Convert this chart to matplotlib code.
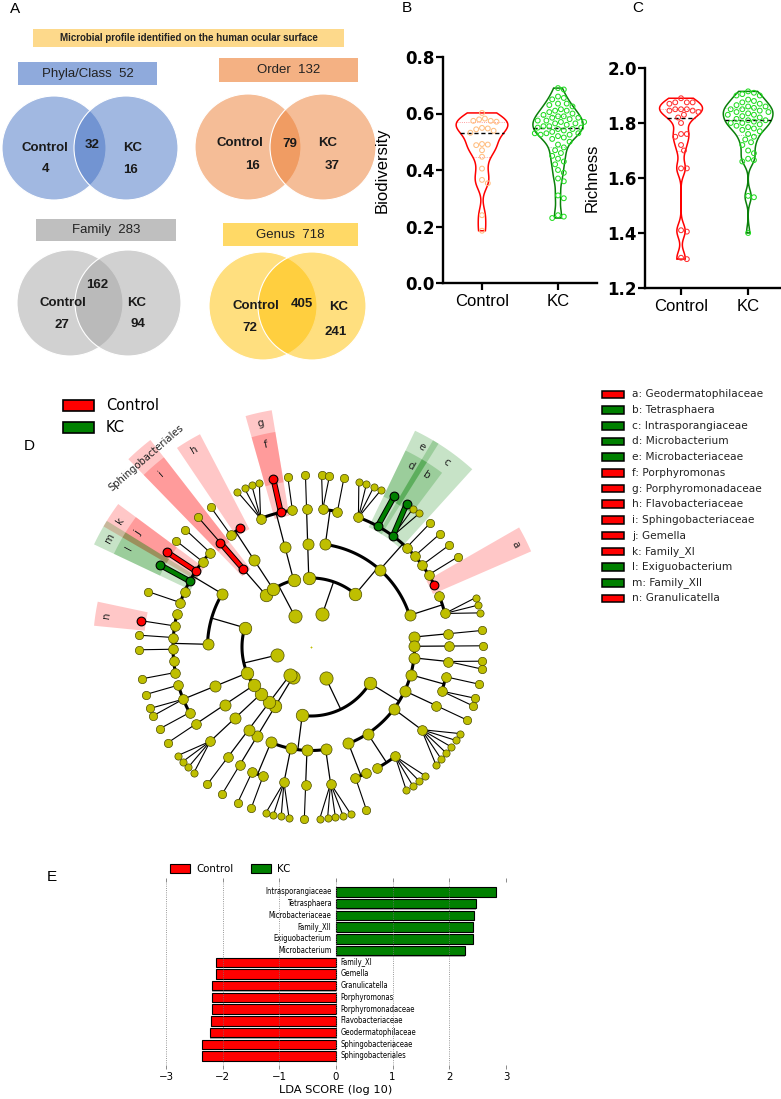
import numpy as np
import matplotlib.pyplot as plt
from matplotlib.patches import Circle, Rectangle, Polygon

# ---------------- data ----------------
# A: shared / unique taxa
venn_levels = ['Phyla/Class', 'Order', 'Family', 'Genus']
venn_control_only = [4, 16, 27, 72]
venn_shared = [32, 79, 162, 405]
venn_kc_only = [16, 37, 94, 241]

# B / C: alpha diversity per subject
groups = ['Control', 'KC']
biodiv_control = [0.602, 0.582, 0.574, 0.574, 0.571, 0.579, 0.547, 0.549, 0.544, 0.539, 0.532,
                  0.490, 0.492, 0.488, 0.470, 0.447, 0.405, 0.365, 0.353, 0.240, 0.185]
biodiv_kc = [0.690, 0.685, 0.660, 0.655, 0.650, 0.635, 0.635, 0.630, 0.625, 0.615, 0.610, 0.610,
             0.605, 0.600, 0.595, 0.590, 0.590, 0.585, 0.585, 0.580, 0.575, 0.575, 0.570, 0.570,
             0.565, 0.565, 0.560, 0.555, 0.555, 0.550, 0.550, 0.545, 0.545, 0.540, 0.535, 0.530,
             0.530, 0.530, 0.525, 0.525, 0.520, 0.515, 0.510, 0.500, 0.490, 0.480, 0.470, 0.460,
             0.450, 0.440, 0.430, 0.420, 0.400, 0.390, 0.370, 0.360, 0.310, 0.300, 0.240, 0.235, 0.230]
rich_control = [1.890, 1.875, 1.875, 1.875, 1.870, 1.850, 1.850, 1.850, 1.845, 1.845, 1.840, 1.830,
                1.820, 1.800, 1.760, 1.760, 1.750, 1.720, 1.700, 1.635, 1.635, 1.410, 1.405, 1.310, 1.305]
rich_kc = [1.915, 1.910, 1.905, 1.900, 1.900, 1.885, 1.880, 1.875, 1.870, 1.865, 1.860, 1.860,
           1.855, 1.850, 1.850, 1.845, 1.840, 1.840, 1.835, 1.830, 1.830, 1.825, 1.820, 1.815,
           1.810, 1.810, 1.805, 1.800, 1.800, 1.795, 1.790, 1.785, 1.780, 1.775, 1.770, 1.760,
           1.750, 1.740, 1.730, 1.720, 1.700, 1.690, 1.670, 1.665, 1.660, 1.535, 1.530, 1.400]

# D: cladogram  phylum -> class -> order -> family (number of genera shown)
clado_tree = [
    [[[1]], [[1, 0]], [[4, 1, 1]]],                                    # Bacteroidetes
    [[[1]], [[2, 1], [4, 1, 3, 1, 1, 1, 1, 0], [0, 3]]],               # Actinobacteria
    [[[1], [1], [2], [1, 2], [1], [6], [4, 0], [0, 1]],
     [[5], [1], [4], [1, 1]]],                                         # Proteobacteria
    [[[1]]],
    [[[1]]],
    [[[4]], [[1]], [[1, 2, 1]],
     [[1, 0, 1, 1, 1, 0], [1, 0, 1, 1, 1, 1]]],                        # Firmicutes
]
clade_letters = list('abcdefghijklmn')
clade_names = ['Geodermatophilaceae', 'Tetrasphaera', 'Intrasporangiaceae', 'Microbacterium',
               'Microbacteriaceae', 'Porphyromonas', 'Porphyromonadaceae', 'Flavobacteriaceae',
               'Sphingobacteriaceae', 'Gemella', 'Family_XI', 'Exiguobacterium', 'Family_XII',
               'Granulicatella']
clade_groups = ['Control', 'KC', 'KC', 'KC', 'KC', 'Control', 'Control', 'Control',
                'Control', 'Control', 'Control', 'KC', 'KC', 'Control']
clade_paths = [(1, 1, 1, 7), (1, 1, 1, 2, 0), (1, 1, 1, 2), (1, 1, 1, 1, 0), (1, 1, 1, 1),
               (0, 2, 0, 1, 0), (0, 2, 0, 1), (0, 1, 0, 1), (0, 0, 0, 0), (5, 3, 1, 3, 0),
               (5, 3, 1, 3), (5, 3, 1, 2, 0), (5, 3, 1, 2), (5, 3, 0, 4, 0)]
named_clade = ('Sphingobacteriales', (0, 0, 0), 'Control')

# E: LEfSe LDA scores
lda_names = ['Intrasporangiaceae', 'Tetrasphaera', 'Microbacteriaceae', 'Family_XII',
             'Exiguobacterium', 'Microbacterium', 'Family_XI', 'Gemella', 'Granulicatella',
             'Porphyromonas', 'Porphyromonadaceae', 'Flavobacteriaceae', 'Geodermatophilaceae',
             'Sphingobacteriaceae', 'Sphingobacteriales']
lda_scores = [2.82, 2.47, 2.43, 2.42, 2.42, 2.28, -2.12, -2.12, -2.19, -2.19, -2.19,
              -2.21, -2.22, -2.36, -2.37]

# ---------------- figure ----------------
W, H = 781, 1099
fig = plt.figure(figsize=(W / 100, H / 100), dpi=100)
ax = fig.add_axes([0, 0, 1, 1])
ax.set_xlim(0, W)
ax.set_ylim(H, 0)
ax.axis('off')

ARIAL = 'Liberation Sans'
RED, GREEN = '#FF0000', '#008000'
grp_color = {'Control': RED, 'KC': GREEN}

for lab, (x, y) in zip('ABCDE', [(15, 9), (407, 8), (638, 8), (29, 446), (52, 877)]):
    ax.text(x, y, lab, fontsize=11, family=ARIAL, ha='center', va='center')

# ---------- A: Venn diagrams ----------
ax.add_patch(Rectangle((33, 29), 311, 18, color='#FDD98B', lw=0))
ax.text(188.5, 38, 'Microbial profile identified on the human ocular surface', family=ARIAL,
        fontsize=7, fontweight='bold', ha='center', va='center', color='#222222')

venn_circle_col = ['#4472C4', '#ED7D31', '#A5A5A5', '#FFC000']
venn_box_col = ['#8FAADC', '#F4B183', '#BFBFBF', '#FFD966']
venn_layout = [
    dict(c1=(54, 148), c2=(126, 148), r=52, box=(18, 62, 157, 85),
         txt=[(45, 148), (45, 169), (92, 145), (133, 148), (131, 170)]),
    dict(c1=(248, 147), c2=(323, 147), r=53, box=(219, 58, 358, 82),
         txt=[(240, 143), (252, 166), (290, 144), (328, 143), (332, 166)]),
    dict(c1=(70, 303), c2=(128, 303), r=53, box=(36, 219, 176, 241),
         txt=[(63, 303), (62, 325), (97, 285), (137, 303), (138, 324)]),
    dict(c1=(263, 306), c2=(312, 306), r=54, box=(223, 223, 358, 246),
         txt=[(256, 306), (250, 328), (302, 304), (339, 307), (336, 332)]),
]
for i, lay in enumerate(venn_layout):
    x0, y0, x1, y1 = lay['box']
    ax.add_patch(Rectangle((x0, y0), x1 - x0, y1 - y0, color=venn_box_col[i], lw=0))
    ax.text((x0 + x1) / 2, (y0 + y1) / 2, f'{venn_levels[i]}  '
            f'{venn_control_only[i] + venn_shared[i] + venn_kc_only[i]}',
            family=ARIAL, fontsize=9.5, ha='center', va='center', color='#222222')
    for c in (lay['c1'], lay['c2']):
        ax.add_patch(Circle(c, lay['r'], facecolor=venn_circle_col[i], alpha=0.5, lw=0))
        ax.add_patch(Circle(c, lay['r'], facecolor='none', edgecolor='white', lw=0.8))
    vals = ['Control', venn_control_only[i], venn_shared[i], 'KC', venn_kc_only[i]]
    for (tx, ty), v in zip(lay['txt'], vals):
        ax.text(tx, ty, str(v), family=ARIAL, fontsize=9.5, fontweight='bold',
                ha='center', va='center', color='#1a1a1a')


# ---------- B / C: violins ----------
def swarm(vals, sx, sy, d):
    vals = np.asarray(vals)
    offs = np.zeros(len(vals))
    placed = []
    for i in np.argsort(-vals):
        y = vals[i] * sy
        cand = 0.0
        for k in range(60):
            cands = [0.0] if k == 0 else [k * d * 0.5, -k * d * 0.5]
            ok = False
            for c in cands:
                if all((c - px) ** 2 + (y - py) ** 2 >= d * d for px, py in placed):
                    cand, ok = c, True
                    break
            if ok:
                break
        placed.append((cand, y))
        offs[i] = cand / sx
    return offs


def violin(a, pos, vals, bw, hw_max, line_col, pt_col, sx, sy):
    vals = np.asarray(vals)
    grid = np.linspace(vals.min(), vals.max(), 300)
    dens = np.exp(-0.5 * ((grid[None, :] - vals[:, None]) / bw) ** 2).sum(0)
    hw = dens / dens.max() * hw_max
    a.fill(np.concatenate([pos + hw, (pos - hw)[::-1]]), np.concatenate([grid, grid[::-1]]),
           facecolor='none', edgecolor=line_col, lw=1.1, zorder=2)
    q1, med, q3 = np.percentile(vals, [25, 50, 75])
    for q in (q1, q3):
        w = np.interp(q, grid, hw)
        a.plot([pos - w, pos + w], [q, q], ls=':', color=line_col, lw=0.6, alpha=0.5, zorder=3)
    w = np.interp(med, grid, hw)
    a.plot([pos - w, pos + w], [med, med], ls=(0, (3, 2)), color='black', lw=1.0, zorder=3)
    offs = swarm(vals, sx, sy, 5.8)
    a.scatter(pos + offs, vals, s=12, facecolors='none', edgecolors=pt_col, linewidths=0.75,
              zorder=4)


def style_gp(a, ylim, yticks, ylabel, xlim, label_x):
    a.set_xlim(*xlim)
    a.set_ylim(*ylim)
    for s in ['top', 'right']:
        a.spines[s].set_visible(False)
    for s in ['left', 'bottom']:
        a.spines[s].set_linewidth(1.7)
    a.set_yticks(yticks)
    a.set_yticklabels([f'{t:.1f}' for t in yticks], fontweight='bold', fontsize=12,
                      family='DejaVu Sans')
    a.set_xticks([1, 2])
    a.set_xticklabels(groups, fontsize=12, family=ARIAL)
    a.tick_params(axis='both', direction='out', length=5, width=1.6)
    a.tick_params(axis='y', pad=1)
    a.tick_params(axis='x', pad=3)
    a.set_ylabel(ylabel, fontsize=12, family=ARIAL)
    a.yaxis.set_label_coords(label_x, 0.5)
    a.patch.set_alpha(0)


ax_b = fig.add_axes([443 / W, 1 - 283 / H, 154 / W, 226 / H])
style_gp(ax_b, (0, 0.8), [0.0, 0.2, 0.4, 0.6, 0.8], 'Biodiversity', (0.487, 2.513), -0.345)
violin(ax_b, 1, biodiv_control, 0.03, 0.34, RED, '#FFBE80', 76, 282.5)
violin(ax_b, 2, biodiv_kc, 0.028, 0.33, '#0A800A', '#22DD22', 76, 282.5)

ax_c = fig.add_axes([645 / W, 1 - 288 / H, 136 / W, 220 / H])
style_gp(ax_c, (1.2, 2.0), [1.2, 1.4, 1.6, 1.8, 2.0], 'Richness', (0.463, 2.49), -0.33)
violin(ax_c, 1, rich_control, 0.026, 0.32, RED, '#FF3030', 67, 275)
violin(ax_c, 2, rich_kc, 0.024, 0.37, '#0A800A', '#22DD22', 67, 275)

# ---------- D: cladogram ----------
CX, CY = 311, 647
ring = [0, 34.5, 69, 103.5, 138, 172]
node_size = [2, 9.5, 9, 8, 7, 6]


def pol(r, deg):
    t = np.radians(deg)
    return CX + r * np.cos(t), CY - r * np.sin(t)


children = {}


def build(sub, path):
    if isinstance(sub, int):
        kids = [path + (g,) for g in range(sub)]
        for k in kids:
            children[k] = []
    else:
        kids = [path + (i,) for i in range(len(sub))]
        for k, s in zip(kids, sub):
            build(s, k)
    children[path] = kids


build(clado_tree, ())


def terminals(p):
    if not children[p]:
        return [p]
    out = []
    for k in children[p]:
        out += terminals(k)
    return out


def common(a, b):
    d = 0
    while d < min(len(a), len(b)) and a[d] == b[d]:
        d += 1
    return d


gap_w = {4: 1.0, 3: 1.85, 2: 1.95, 1: 2.05, 0: 2.25}
terms = terminals(())
steps = [gap_w[common(terms[i - 1], terms[i])] for i in range(1, len(terms))]
total = sum(steps) + gap_w[common(terms[-1], terms[0])]
cum = np.concatenate([[0], np.cumsum(steps)])
start = 131.0
theta = {t: start - c * 360 / total for t, c in zip(terms, cum)}


def set_theta(p):
    if p in theta:
        return theta[p]
    ts = [set_theta(k) for k in children[p]]
    theta[p] = (min(ts) + max(ts)) / 2
    return theta[p]


set_theta(())

hl = {p: grp_color[g] for p, g in zip(clade_paths, clade_groups)}
hl[named_clade[1]] = grp_color[named_clade[2]]


# highlight wedges
def wedge(r0, r1, a0, a1, col):
    t = np.linspace(a0, a1, 30)
    xo, yo = pol(r1, t)
    xi, yi = pol(r0, t[::-1])
    ax.add_patch(Polygon(np.column_stack([np.r_[xo, xi], np.r_[yo, yi]]), closed=True,
                         facecolor=col, alpha=0.22, lw=0, zorder=1))


wedge_out = {3: 262, 4: 240, 5: 218}
delta = 3.2
clade_items = [(p, l, grp_color[g]) for p, l, g in zip(clade_paths, clade_letters, clade_groups)]
clade_items.append((named_clade[1], named_clade[0], grp_color[named_clade[2]]))
for p, lab, col in clade_items:
    L = len(p)
    ts = [theta[t] for t in terminals(p)]
    r1 = wedge_out[L]
    wedge(ring[L] - 5, r1, max(ts) + delta, min(ts) - delta, col)
    tm = (max(ts) + min(ts)) / 2
    x, y = pol(r1 - 11, tm)
    ax.text(x, y, lab, fontsize=7.5 if L > 3 else 7.2, rotation=tm - 90, ha='center',
            va='center', rotation_mode='anchor', zorder=5, color='#222222')

# edges
for p, kids in children.items():
    L = len(p)
    if L == 0 or not kids:
        continue
    tp = theta[p]
    if L == 4:
        for k in kids:
            x0, y0 = pol(ring[4], tp)
            x1, y1 = pol(ring[5], theta[k])
            ax.plot([x0, x1], [y0, y1], color='black', lw=0.8, zorder=2)
    else:
        ts = [theta[k] for k in kids]
        if len(kids) > 1:
            t = np.linspace(min(ts), max(ts), 60)
            ax.plot(*pol(ring[L + 1], t), color='black', lw=2.2, zorder=2,
                    solid_capstyle='butt')
        x0, y0 = pol(ring[L], tp)
        x1, y1 = pol(ring[L + 1], tp)
        ax.plot([x0, x1], [y0, y1], color='black', lw=0.9, zorder=2)
    for k in kids:
        if k in hl and p in hl and hl[k] == hl[p]:
            x0, y0 = pol(ring[L], tp)
            x1, y1 = pol(ring[L + 1], theta[k])
            ax.plot([x0, x1], [y0, y1], color='black', lw=4.2, zorder=3, solid_capstyle='round')
            ax.plot([x0, x1], [y0, y1], color=hl[p], lw=2.8, zorder=3, solid_capstyle='round')

# nodes
for p in children:
    L = len(p)
    x, y = pol(ring[L], theta[p]) if L else (CX, CY)
    if L == 0:
        ax.scatter([x], [y], s=3, c='#BFBF00', marker='+', lw=0.6, zorder=4)
        continue
    size = node_size[L]
    if L == 5 and len(children[p[:4]]) >= 3:
        size = 5.2
    if p in hl:
        ax.scatter([x], [y], s=6.3 ** 2, c=hl[p], edgecolors='black', linewidths=0.8, zorder=4)
    else:
        ax.scatter([x], [y], s=size ** 2, c='#BFBF00', edgecolors='#4d4d00', linewidths=0.5,
                   zorder=4)

# cladogram legends
for j, g in enumerate(groups):
    yy = 405.5 + 21.5 * j
    ax.add_patch(Rectangle((63, yy - 5.5), 31, 11, facecolor=grp_color[g], edgecolor='black',
                           lw=1.2))
    ax.text(106, yy, g, fontsize=10.5, va='center', ha='left')
for j, (l, nm, g) in enumerate(zip(clade_letters, clade_names, clade_groups)):
    yy = 394.3 + 15.7 * j
    ax.add_patch(Rectangle((602, yy - 3.8), 22, 7.6, facecolor=grp_color[g], edgecolor='black',
                           lw=1.1))
    ax.text(632, yy, f'{l}: {nm}', fontsize=7.6, va='center', ha='left', color='#222222')

# ---------- E: LDA bar chart ----------
ax_e = fig.add_axes([166 / W, 1 - 1065 / H, 340 / W, 183 / H])
ypos = np.arange(len(lda_scores))
cols = [GREEN if v > 0 else RED for v in lda_scores]
ax_e.barh(ypos + 0.12, lda_scores, height=0.8, color='#AAAAAA', lw=0, zorder=1)
ax_e.barh(ypos, lda_scores, height=0.8, color=cols, edgecolor='black', lw=0.8, zorder=2)
for yv, v, nm in zip(ypos, lda_scores, lda_names):
    if v > 0:
        ax_e.text(-0.08, yv, nm, ha='right', va='center', fontsize=5.5, fontstretch='condensed')
    else:
        ax_e.text(0.08, yv, nm, ha='left', va='center', fontsize=5.5, fontstretch='condensed')
ax_e.set_xlim(-3, 3)
ax_e.set_ylim(len(lda_scores) - 1 + 0.77, -0.85)
ax_e.set_xticks(range(-3, 4))
ax_e.set_yticks([])
for s in ax_e.spines.values():
    s.set_visible(False)
ax_e.grid(axis='x', ls=':', color='#777777', lw=0.6, zorder=3)
ax_e.set_axisbelow(False)
ax_e.tick_params(axis='x', top=True, bottom=True, length=3, width=0.6, color='#777777',
                 labelsize=7.4, pad=2)
ax_e.set_xlabel('LDA SCORE (log 10)', fontsize=8.2, labelpad=2)
ax_e.patch.set_alpha(0)
for j, (g, x0) in enumerate(zip(groups, [170, 251])):
    ax.add_patch(Rectangle((x0, 864), 19.5, 8.5, facecolor=grp_color[g], edgecolor='black', lw=0.8))
    ax.text(x0 + 26, 868.5, g, fontsize=7.4, va='center', ha='left')

fig.savefig('out.png', dpi=100)
